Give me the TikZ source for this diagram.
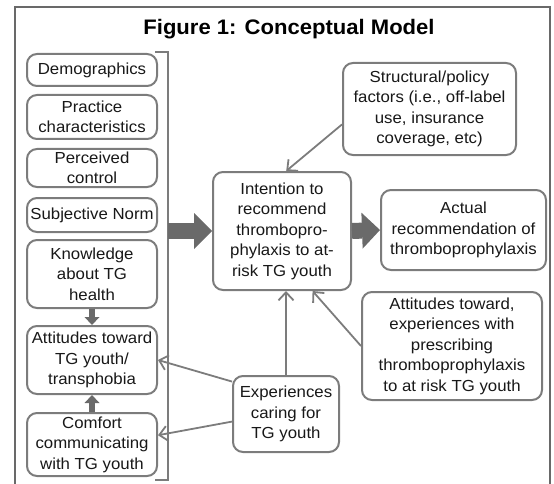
\documentclass[tikz,border=0pt]{standalone}
\usepackage{fontspec}
\setmainfont{Liberation Sans}[FakeStretch=1.05]
\usetikzlibrary{arrows.meta}
\definecolor{boxgray}{HTML}{7C7C7C}
\definecolor{arrgray}{HTML}{6A6A6A}
\definecolor{txtgray}{HTML}{181818}
\tikzset{
  factor/.style={draw=boxgray, line width=2pt, rounded corners=10pt, fill=white, text=txtgray,
    align=center, inner sep=0pt, font=\fontsize{16}{20.5}\selectfont},
  link/.style={draw=boxgray, line width=1.8pt, -{Straight Barb[length=8pt,width=15pt]}},
  bigarrow/.style={draw=arrgray, line width=16pt, -{Triangle[length=18pt,width=36pt,line width=0pt]}},
  smallarrow/.style={draw=arrgray, line width=6pt, -{Triangle[length=8pt,width=15pt,line width=0pt]}},
}

\begin{document}
\begin{tikzpicture}[x=1pt,y=-1pt]
\useasboundingbox (0,0) rectangle (554,484);
\draw[color=boxgray!85!black,line width=1.3pt] (15,484) -- (15,7) -- (550,7) -- (550,484);
\node (title) at (289,29.5) {\fontsize{21}{24}\selectfont\bfseries Figure 1: Conceptual Model};

\node[factor, minimum width=130pt, minimum height=32pt] (demo) at (92,70) {Demographics};
\node[factor, minimum width=130pt, minimum height=44pt] (prac) at (92,117) {Practice\\characteristics};
\node[factor, minimum width=130pt, minimum height=38pt] (perc) at (92,168) {Perceived\\control};
\node[factor, minimum width=130pt, minimum height=34pt] (subj) at (92,215) {Subjective Norm};
\node[factor, minimum width=130pt, minimum height=68pt] (know) at (92,274) {Knowledge\\about TG\\health};
\node[factor, minimum width=130pt, minimum height=68pt] (atti) at (92,360) {Attitudes toward\\TG youth/\\transphobia};
\node[factor, minimum width=130pt, minimum height=63pt] (comf) at (92,444.5) {Comfort\\communicating\\with TG youth};

\draw[color=boxgray,line width=2.8pt] (155,52) -- (168,52) -- (168,480) -- (155,480);
\coordinate (brk) at (168,231);

\node[factor, minimum width=138pt, minimum height=118pt] (intent) at (282,231) {Intention to\\recommend\\thrombopro-\\phylaxis to at-\\risk TG youth};
\node[factor, minimum width=165pt, minimum height=80pt] (actual) at (463.5,230) {Actual\\recommendation of\\thromboprophylaxis};
\node[factor, minimum width=173pt, minimum height=92pt] (struct) at (429.5,109) {Structural/policy\\factors (i.e., off-label\\use, insurance\\coverage, etc)};
\node[factor, minimum width=180pt, minimum height=108pt] (attexp) at (452,346) {Attitudes toward,\\experiences with\\prescribing\\thromboprophylaxis\\to at risk TG youth};
\node[factor, minimum width=106pt, minimum height=76pt] (exper) at (286,414) {Experiences\\caring for\\TG youth};

\draw[bigarrow] (brk) -- (intent.west);
\draw[bigarrow] (intent.east) -- (actual.west);
\draw[smallarrow] (know.south) -- (atti.north);
\draw[smallarrow] (comf.north) -- (atti.south);

\draw[link] (struct.190) -- (intent.86);
\draw[link] (attexp.west) -- (intent.-63);
\draw[link] (exper.north) -- (exper.north |- intent.south);
\draw[link] (exper.149) -- (atti.east);
\draw[link] (exper.188) -- (comf.8);
\end{tikzpicture}
\end{document}
